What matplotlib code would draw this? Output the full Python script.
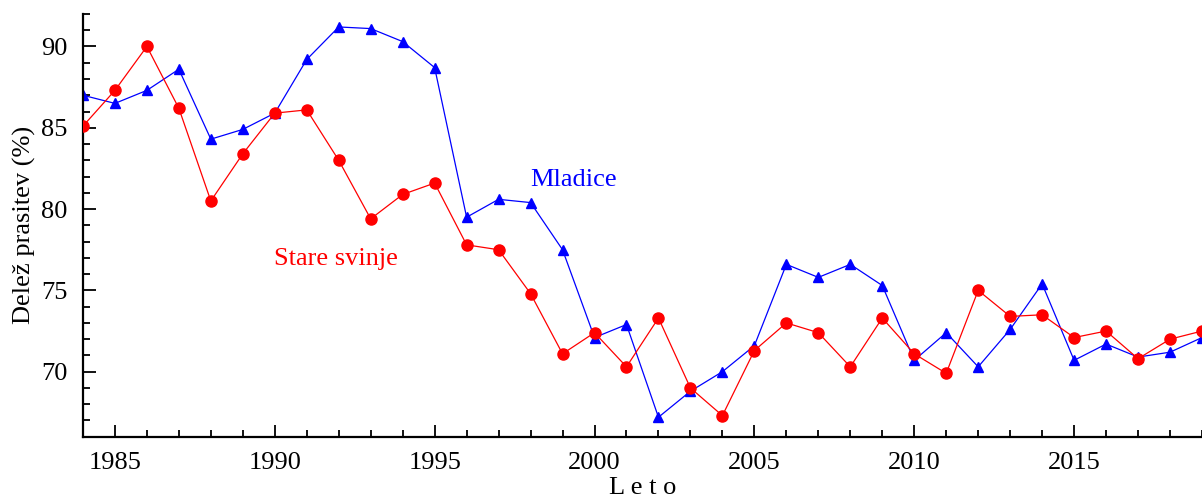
import matplotlib
matplotlib.use("Agg")
import matplotlib.pyplot as plt
from matplotlib.ticker import MultipleLocator

years = list(range(1984, 2020))
stare_svinje = [85.1, 87.3, 90.0, 86.2, 80.5, 83.4, 85.9, 86.1, 83.0, 79.4,
                80.9, 81.6, 77.8, 77.5, 74.8, 71.1, 72.4, 70.3, 73.3, 69.0,
                67.3, 71.3, 73.0, 72.4, 70.3, 73.3, 71.1, 69.9, 75.0, 73.4,
                73.5, 72.1, 72.5, 70.8, 72.0, 72.5]
mladice = [87.0, 86.5, 87.3, 88.6, 84.3, 84.9, 85.9, 89.2, 91.2, 91.1,
           90.3, 88.7, 79.5, 80.6, 80.4, 77.5, 72.1, 72.9, 67.2, 68.8,
           70.0, 71.6, 76.6, 75.8, 76.6, 75.3, 70.7, 72.4, 70.3, 72.6,
           75.4, 70.7, 71.7, 70.9, 71.2, 72.1]

plt.rcParams['font.family'] = ['Liberation Serif', 'DejaVu Serif']

fig = plt.figure(figsize=(12.02, 4.98), dpi=100)
ax = fig.add_axes([0.069, 0.123, 0.931, 0.849])

ax.plot(years, mladice, color='blue', lw=0.9, marker='^', ms=7, zorder=2)
ax.plot(years, stare_svinje, color='red', lw=0.9, marker='o', ms=8, zorder=3)

ax.set_xlim(1984, 2019)
ax.set_ylim(66, 92)
ax.xaxis.set_major_locator(MultipleLocator(5))
ax.xaxis.set_minor_locator(MultipleLocator(1))
ax.yaxis.set_major_locator(MultipleLocator(5))
ax.yaxis.set_minor_locator(MultipleLocator(1))
ax.tick_params(which='both', direction='in', width=1.3, labelsize=19, colors='black')
ax.tick_params(which='major', length=9)
ax.tick_params(which='minor', length=5)
ax.tick_params(axis='x', pad=11)
ax.tick_params(axis='y', pad=11)

for s in ['top', 'right']:
    ax.spines[s].set_visible(False)
for s in ['left', 'bottom']:
    ax.spines[s].set_linewidth(1.6)

ax.set_ylabel('Delež prasitev (%)', fontsize=19, labelpad=4)
ax.set_xlabel('L e t o', fontsize=19, labelpad=2)

ax.text(1998.0, 81.8, 'Mladice', color='blue', fontsize=19, va='center', ha='left')
ax.text(1991.9, 76.9, 'Stare svinje', color='red', fontsize=19, va='center', ha='center')

fig.savefig('out.png', dpi=100)
